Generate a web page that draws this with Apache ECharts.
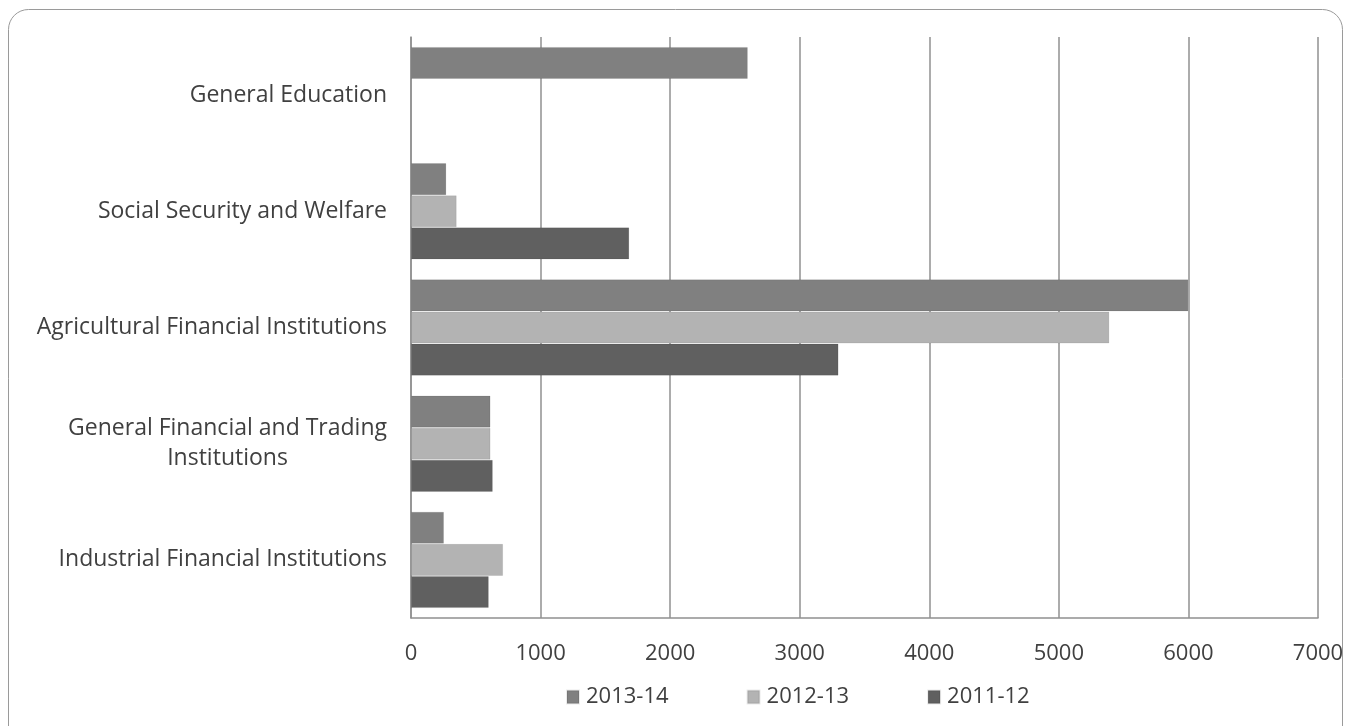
<!DOCTYPE html>
<html>
<head>
<meta charset="utf-8">
<script src="https://cdn.jsdelivr.net/npm/echarts@6/dist/echarts.min.js"></script>
<style>
  html, body { margin: 0; padding: 0; background: #fff; }
  #chart { width: 1351px; height: 726px; }
</style>
</head>
<body>
<div id="chart"></div>
<script>
// bottom to top, as the y axis draws them
const categories = [
  'Industrial Financial Institutions',
  'General Financial and Trading\nInstitutions',
  'Agricultural Financial Institutions',
  'Social Security and Welfare',
  'General Education'
]
const seriesNames = ['2013-14', '2012-13', '2011-12']
const data1314 = [255, 614, 6000, 273, 2600]
const data1213 = [711, 614, 5390, 353, null]
const data1112 = [601, 632, 3300, 1685, null]
const xTicks = [0, 1000, 2000, 3000, 4000, 5000, 6000, 7000]

const colors = ['#808080', '#b3b3b3', '#606060']
const font = 'Open Sans'
const txt = '#404040'

const chart = echarts.init(document.getElementById('chart'))

function barSeries(name, data, i) {
  return {
    name: name,
    type: 'bar',
    data: data,
    barGap: '0%',
    barCategoryGap: '17%',
    itemStyle: { color: colors[i], borderColor: 'rgba(0,0,0,0.08)', borderWidth: 1 },
    animation: false
  }
}

const option = {
  backgroundColor: '#fff',
  graphic: [{
    type: 'rect',
    shape: { x: 8.5, y: 9.5, width: 1334, height: 740, r: 20 },
    style: { fill: 'none', stroke: '#9a9a9a', lineWidth: 1 },
    silent: true
  }],
  grid: { left: 411, right: 33, top: 37, bottom: 108 },
  legend: {
    data: seriesNames,
    left: 561,
    top: 681,
    itemWidth: 12,
    itemHeight: 13,
    itemGap: 78,
    icon: 'rect',
    textStyle: { fontFamily: font, fontSize: 22, color: txt, padding: [0, 0, 0, 2] }
  },
  xAxis: {
    type: 'value',
    min: xTicks[0],
    max: xTicks[xTicks.length - 1],
    interval: 1000,
    axisLine: { show: true, lineStyle: { color: '#909090', width: 1.5 } },
    axisTick: { show: false },
    splitLine: { show: true, lineStyle: { color: '#909090', width: 1.5 } },
    axisLabel: {
      margin: 25,
      fontFamily: font,
      fontSize: 22,
      color: txt,
      formatter: function (v) { return String(v) }
    }
  },
  yAxis: {
    type: 'category',
    data: categories,
    axisLine: { show: true, lineStyle: { color: '#909090', width: 1.5 } },
    axisTick: { show: false },
    axisLabel: {
      margin: 24,
      fontFamily: font,
      fontSize: 23,
      color: txt,
      lineHeight: 30,
      formatter: function (v) {
        return v.split('\n').map(function (s) { return '{c|' + s + '}' }).join('\n')
      },
      rich: { c: { align: 'center', fontFamily: font, fontSize: 23, color: txt, lineHeight: 30 } }
    }
  },
  series: [
    barSeries(seriesNames[0], data1314, 0),
    barSeries(seriesNames[1], data1213, 1),
    barSeries(seriesNames[2], data1112, 2)
  ]
}
chart.setOption(option)
</script>
</body>
</html>
